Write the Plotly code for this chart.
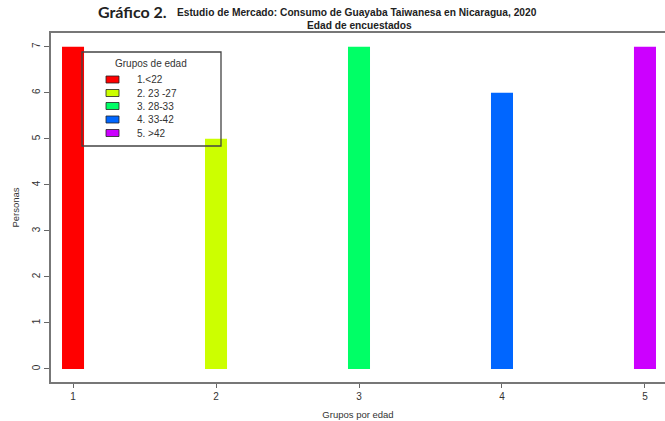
import plotly.graph_objects as go

# ---- data ----
grupos = [1, 2, 3, 4, 5]
personas = [7, 5, 7, 6, 7]
etiquetas = ["1.<22", "2. 23 -27", "3. 28-33", "4. 33-42", "5. >42"]
colores = ["#FF0000", "#CCFF00", "#00FF66", "#0066FF", "#CC00FF"]
y_ticks = [0, 1, 2, 3, 4, 5, 6, 7]

W, H = 665, 421
L, R, T, B = 51, 0, 33, 39
PW = W - L - R
PH = H - T - B


def px(xp):
    return (xp - L) / PW


def py(yp):
    return (H - B - yp) / PH


FONT = "Liberation Sans, Arial, sans-serif"
TXT = "#333333"

fig = go.Figure()
for g, v, lab, c in zip(grupos, personas, etiquetas, colores):
    fig.add_trace(go.Bar(x=[g], y=[v], name=lab, width=0.154,
                         marker=dict(color=c, line=dict(width=0)),
                         showlegend=False))

shapes = []
annotations = []

# legend box (transparent)
shapes.append(dict(type="rect", xref="paper", yref="paper",
                   x0=px(82), x1=px(221), y0=py(146), y1=py(52),
                   line=dict(color="#444444", width=1.3), fillcolor="rgba(0,0,0,0)"))
annotations.append(dict(text="Grupos de edad", xref="paper", yref="paper",
                        x=px(151), y=py(63), xanchor="center", yanchor="middle",
                        showarrow=False, font=dict(family=FONT, size=10, color=TXT)))
item_y = [79.5, 93, 106, 119.5, 133]
for yy, lab, c in zip(item_y, etiquetas, colores):
    shapes.append(dict(type="rect", xref="paper", yref="paper",
                       x0=px(106), x1=px(119), y0=py(yy + 3.5), y1=py(yy - 3.5),
                       line=dict(color="#222222", width=0.8), fillcolor=c))
    annotations.append(dict(text=lab, xref="paper", yref="paper",
                            x=px(135), y=py(yy), xanchor="left", yanchor="middle",
                            showarrow=False, font=dict(family=FONT, size=10, color=TXT)))

# titles
annotations.append(dict(text="<b>Gráfico 2.</b>", xref="paper", yref="paper",
                        x=px(168), y=py(12), xanchor="right", yanchor="middle",
                        showarrow=False, borderpad=0,
                        font=dict(family="Lato, Carlito, sans-serif", size=16, color="#222222")))
annotations.append(dict(text="<b>Estudio de Mercado: Consumo de Guayaba Taiwanesa en Nicaragua, 2020</b>",
                        xref="paper", yref="paper",
                        x=px(176), y=py(13), xanchor="left", yanchor="middle",
                        showarrow=False, borderpad=0,
                        font=dict(family=FONT, size=10.2, color="#222222")))
annotations.append(dict(text="<b>Edad de encuestados</b>", xref="paper", yref="paper",
                        x=px(359.5), y=py(25.5), xanchor="center", yanchor="middle",
                        showarrow=False, borderpad=0,
                        font=dict(family=FONT, size=10.2, color="#222222")))

fig.update_layout(
    width=W, height=H,
    margin=dict(l=L, r=R, t=T, b=B, pad=0),
    paper_bgcolor="white", plot_bgcolor="white",
    barmode="overlay",
    showlegend=False,
    shapes=shapes,
    annotations=annotations,
    font=dict(family=FONT, size=10, color=TXT),
)

fig.update_xaxes(range=[0.846, 5.14], tickvals=grupos, ticktext=[str(g) for g in grupos],
                 showgrid=False, zeroline=False,
                 showline=True, mirror=True, linecolor="#777777", linewidth=1.5,
                 ticks="outside", ticklen=4, tickcolor="#666666", tickwidth=1,
                 tickfont=dict(family=FONT, size=10, color=TXT),
                 title=dict(text="Grupos por edad", standoff=11,
                            font=dict(family=FONT, size=9.5, color=TXT)))
fig.update_yaxes(range=[-0.283, 7.30], tickvals=y_ticks,
                 showgrid=False, zeroline=False,
                 showline=True, mirror=False, linecolor="#777777", linewidth=1.5,
                 ticks="outside", ticklen=5, tickcolor="#666666", tickwidth=1,
                 tickangle=-90,
                 tickfont=dict(family=FONT, size=10, color=TXT),
                 title=dict(text="Personas", standoff=10,
                            font=dict(family=FONT, size=9.5, color=TXT)))

fig.write_html("out.html", config={"displayModeBar": False},
               post_script="document.body.style.margin='0';")
